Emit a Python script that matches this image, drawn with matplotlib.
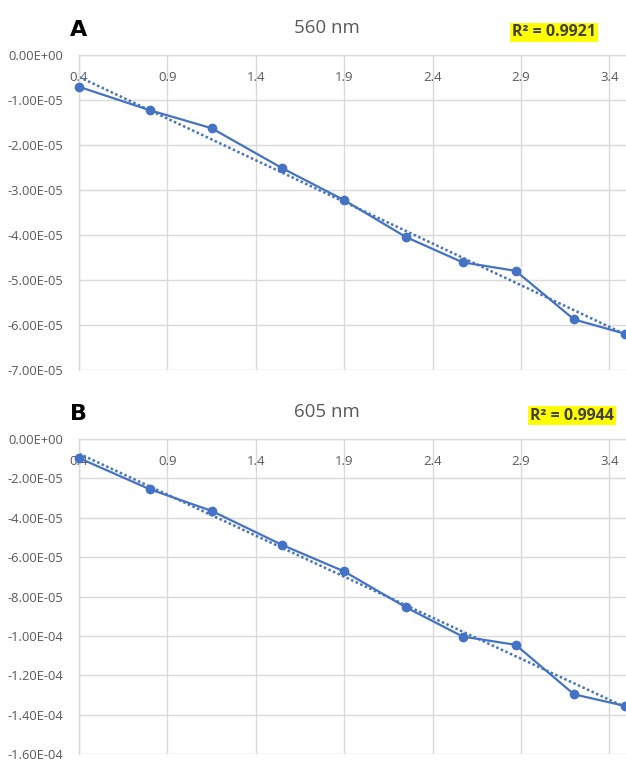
import numpy as np
import matplotlib
matplotlib.use("Agg")
import matplotlib.pyplot as plt
from matplotlib.ticker import FuncFormatter, MultipleLocator

plt.rcParams['font.family'] = ['Open Sans', 'DejaVu Sans']

# concentration (x) and slope values for the two wavelengths
conc = [0.4, 0.8, 1.15, 1.55, 1.9, 2.25, 2.57, 2.87, 3.2, 3.49]
slope_560 = [-0.70e-5, -1.22e-5, -1.62e-5, -2.51e-5, -3.22e-5,
             -4.04e-5, -4.60e-5, -4.79e-5, -5.87e-5, -6.19e-5]
slope_605 = [-0.98e-5, -2.56e-5, -3.66e-5, -5.39e-5, -6.73e-5,
             -8.55e-5, -10.03e-5, -10.45e-5, -12.96e-5, -13.55e-5]

x_ticks = [0.4, 0.9, 1.4, 1.9, 2.4, 2.9, 3.4]
panels = [
    ("A", "560 nm", "R² = 0.9921", slope_560, -7e-5, 1e-5),
    ("B", "605 nm", "R² = 0.9944", slope_605, -1.6e-4, 2e-5),
]

BLUE = "#4472C4"
GRID = "#d9d9d9"
TXT = "#595959"


def sci_fmt(v, _):
    if abs(v) < 1e-12:
        v = 0.0
    return f"{v:.2E}"


fig = plt.figure(figsize=(6.26, 7.6), dpi=100)
W, H = 626, 760
# axes boxes in pixels: left, top, bottom
boxes = [(79, 55.3, 370.3), (79, 438.7, 754.3)]

for (letter, title, r2, ys, ymin, ystep), (l, t, b) in zip(panels, boxes):
    ax = fig.add_axes([l / W, 1 - b / H, 1 - l / W, (b - t) / H])
    ax.plot(conc, ys, color=BLUE, lw=1.6, marker="o", ms=6, clip_on=False, zorder=3)

    # linear trendline
    k, c = np.polyfit(conc, ys, 1)
    xx = np.array([conc[0], conc[-1]])
    ax.plot(xx, k * xx + c, color=BLUE, lw=1.8, ls=(0, (1, 1.0)), zorder=2)

    ax.set_xlim(0.4, 3.494)
    ax.set_ylim(ymin, 0)
    ax.set_xticks(x_ticks)
    ax.set_xticklabels([str(v) for v in x_ticks])
    ax.yaxis.set_major_locator(MultipleLocator(ystep))
    ax.yaxis.set_major_formatter(FuncFormatter(sci_fmt))
    ax.grid(True, color=GRID, lw=1)
    ax.set_axisbelow(True)

    for s in ("right", "bottom"):
        ax.spines[s].set_visible(False)
    for s in ("left", "top"):
        ax.spines[s].set_color(GRID)
        ax.spines[s].set_linewidth(1)

    ax.tick_params(axis="x", top=True, bottom=False, labeltop=True, labelbottom=False,
                   length=0, pad=-21, labelsize=9.5, labelcolor=TXT)
    ax.tick_params(axis="y", length=0, pad=11, labelsize=9.3, labelcolor=TXT)

    fig.text(70 / W, 1 - (t - 19) / H, letter, fontsize=16, fontweight="bold",
             color="black", va="baseline", family="DejaVu Sans")
    fig.text(327 / W, 1 - (t - 27) / H, title, fontsize=13.5, color=TXT,
             ha="center", va="center")
    x_r2 = 554 if letter == "A" else 572
    fig.text(x_r2 / W, 1 - (t - 23) / H, r2, fontsize=11.5, fontweight="bold",
             color="#404040", ha="center", va="center",
             bbox=dict(facecolor="#ffff00", edgecolor="none", pad=1.2))

fig.savefig("out.png", dpi=100)
